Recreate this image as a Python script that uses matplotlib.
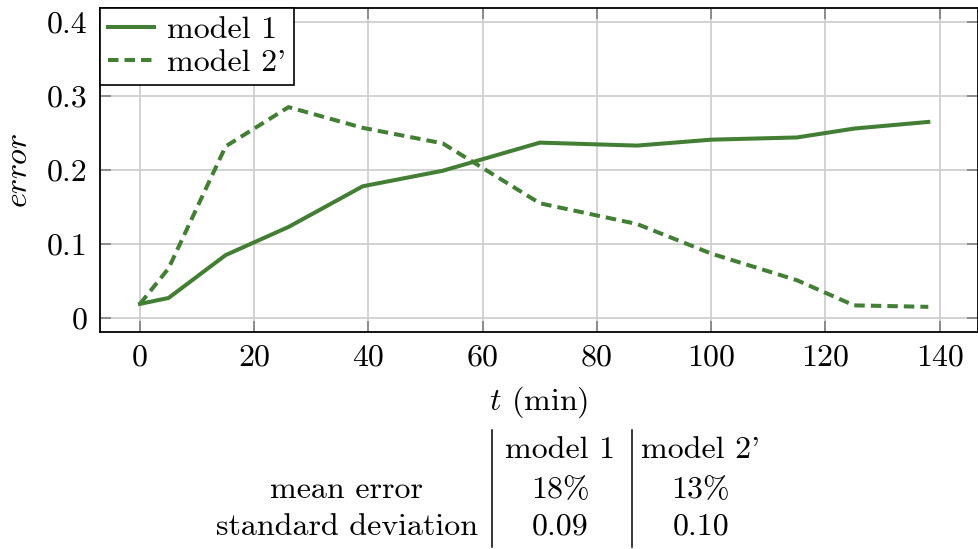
import matplotlib as mpl

mpl.use("Agg")

import matplotlib.pyplot as plt
from matplotlib.lines import Line2D
from matplotlib.ticker import FuncFormatter, MultipleLocator

plt.rcParams["font.family"] = ["cmr10", "DejaVu Serif"]
plt.rcParams["mathtext.fontset"] = "cm"
plt.rcParams["axes.unicode_minus"] = False
plt.rcParams["axes.formatter.use_mathtext"] = True

# measurement times (min) and error of both models
t_min = [0, 5, 15, 26, 39, 53, 70, 87, 100, 115, 125, 138]
err_model1 = [0.019, 0.027, 0.085, 0.123, 0.178, 0.199, 0.237, 0.233, 0.241, 0.244, 0.256, 0.265]
err_model2 = [0.019, 0.067, 0.232, 0.285, 0.257, 0.236, 0.155, 0.127, 0.087, 0.051, 0.017, 0.015]

# summary table below the plot (cmr10 draws ' as a closing quote)
table_cols = ["model 1", "model 2'"]
table_rows = ["mean error", "standard deviation"]
table_vals = [["18%", "13%"], ["0.09", "0.10"]]

GREEN = "#427f35"
FS = 23
W, H = 979, 549

fig = plt.figure(figsize=(W / 100, H / 100), dpi=100)
ax = fig.add_axes([100 / W, 1 - 332 / H, 878 / W, 324 / H])

ax.plot(t_min, err_model1, color=GREEN, lw=2.9, label=table_cols[0], zorder=3)
ax.plot(t_min, err_model2, color=GREEN, lw=2.9, ls=(0, (2.6, 1.5)),
        label=table_cols[1], zorder=3)

ax.set_xlim(-7, 146.7)
ax.set_ylim(-0.019, 0.419)
ax.xaxis.set_major_locator(MultipleLocator(20))
ax.yaxis.set_major_locator(MultipleLocator(0.1))
ax.yaxis.set_major_formatter(FuncFormatter(lambda v, _: f"{v:.1f}" if abs(v) > 1e-9 else "0"))
ax.xaxis.set_major_formatter(FuncFormatter(lambda v, _: f"{v:.0f}"))

ax.grid(True, color="#cfcfcf", lw=1.3, zorder=0)
ax.tick_params(direction="in", length=8, width=1.2, color="#808080",
               top=True, right=True, labelsize=FS)
ax.tick_params(axis="x", pad=9)
ax.tick_params(axis="y", pad=9)
for s in ax.spines.values():
    s.set_linewidth(1.3)
    s.set_zorder(4)

ax.set_xlabel(r"$t$ (min)", fontsize=FS, labelpad=9)
ax.set_ylabel(r"$error$", fontsize=FS, labelpad=10)

leg = ax.legend(loc="upper left", fontsize=FS, borderaxespad=0, fancybox=False,
                framealpha=1, edgecolor="black", handlelength=1.45,
                handletextpad=0.4, borderpad=0.25, labelspacing=0.15)
leg.get_frame().set_linewidth(1.2)

# table of summary statistics
col_x = [347, 560, 701]
row_y = [450, 490, 527]
for j, name in enumerate(table_cols):
    fig.text(col_x[j + 1] / W, 1 - row_y[0] / H, name, fontsize=FS,
             ha="center", va="center")
for i, name in enumerate(table_rows):
    fig.text(col_x[0] / W, 1 - row_y[i + 1] / H, name, fontsize=FS,
             ha="center", va="center")
    for j, val in enumerate(table_vals[i]):
        fig.text(col_x[j + 1] / W, 1 - row_y[i + 1] / H, val, fontsize=FS,
                 ha="center", va="center")
for xv in (492, 632):
    fig.add_artist(Line2D([xv / W, xv / W], [1 - 430 / H, 1 - 547 / H],
                          color="black", lw=1.1))

fig.savefig("out.png", dpi=100)
